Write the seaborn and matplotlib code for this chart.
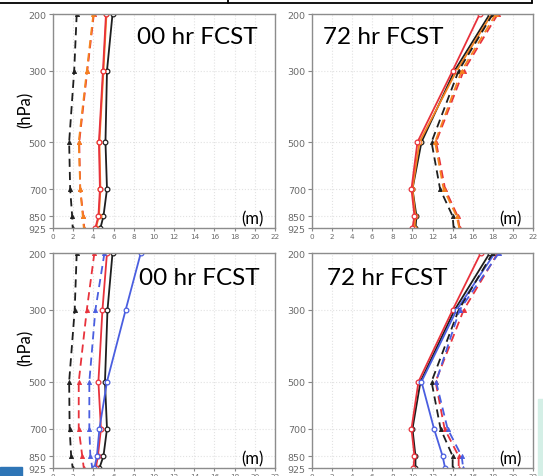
import numpy as np
import pandas as pd
import matplotlib
matplotlib.use("Agg")
import matplotlib.pyplot as plt
from matplotlib.lines import Line2D
from matplotlib.patches import Rectangle
import seaborn as sns

# Pressure levels (hPa)
levels = [200, 300, 500, 700, 850, 925]

# Upper row, 00 hr forecast (m)
top00_black_solid = [5.9, 5.35, 5.2, 5.35, 5.0, 4.7]
top00_red_solid = [5.25, 4.95, 4.55, 4.65, 4.5, 4.2]
top00_orange_solid = [5.3, 5.0, 4.6, 4.7, 4.55, 4.25]
top00_black_dash = [2.35, 2.1, 1.6, 1.7, 1.9, 1.95]
top00_red_dash = [4.05, 3.4, 2.6, 2.7, 3.0, 3.1]
top00_orange_dash = [4.0, 3.35, 2.55, 2.7, 2.95, 3.05]

# Upper row, 72 hr forecast (m)
top72_black_solid = [17.7, 14.2, 10.9, 10.0, 10.4, 10.3]
top72_red_solid = [16.7, 14.0, 10.5, 9.9, 10.2, 10.0]
top72_orange_solid = [17.9, 14.4, 10.7, 10.0, 10.3, 10.2]
top72_black_dash = [18.0, 14.6, 11.9, 12.75, 14.0, 14.1]
top72_red_dash = [18.5, 15.1, 12.35, 13.25, 14.5, 14.7]
top72_orange_dash = [18.3, 14.9, 12.25, 13.1, 14.4, 14.65]

# Lower row, 00 hr forecast (m)
bot00_black_solid = [5.9, 5.4, 5.15, 5.35, 5.0, 4.6]
bot00_red_solid = [5.35, 4.9, 4.5, 4.75, 4.45, 4.25]
bot00_blue_solid = [8.7, 7.2, 5.35, 4.6, 4.35, 4.1]
bot00_black_dash = [2.35, 2.15, 1.6, 1.65, 1.8, 1.95]
bot00_red_dash = [4.1, 3.35, 2.55, 2.55, 2.9, 3.05]
bot00_blue_dash = [5.1, 4.2, 3.6, 3.6, 3.7, 3.9]

# Lower row, 72 hr forecast (m)
bot72_black_solid = [17.7, 14.2, 10.8, 10.0, 10.3, 10.3]
bot72_red_solid = [16.8, 14.0, 10.6, 9.9, 10.2, 10.1]
bot72_blue_solid = [18.2, 14.4, 10.9, 12.15, 13.0, 13.25]
bot72_black_dash = [18.0, 14.6, 11.9, 12.8, 14.0, 14.0]
bot72_red_dash = [18.5, 15.1, 12.3, 13.2, 14.6, 14.6]
bot72_blue_dash = [18.6, 14.7, 12.35, 13.5, 14.9, 15.05]

x_ticks = list(range(0, 23, 2))
panel_titles = ["00 hr FCST", "72 hr FCST", "00 hr FCST", "72 hr FCST"]
# (x, y, horizontal alignment) of each panel title in axes fraction
title_pos = [(0.923, 0.893, "right"), (0.05, 0.893, "left"),
             (0.932, 0.884, "right"), (0.068, 0.884, "left")]

BLACK = "#1e1e1e"
RED = "#e8323c"
ORANGE = "#f5821f"
BLUE = "#4a5ee0"

sns.set_theme(style="white")
plt.rcParams["font.family"] = ["DejaVu Sans"]

W, H = 543, 477
fig = plt.figure(figsize=(W / 100, H / 100), dpi=100)


def px_axes(x0, y0, x1, y1):
    return fig.add_axes([x0 / W, 1 - y1 / H, (x1 - x0) / W, (y1 - y0) / H])


axes = [
    px_axes(53, 15, 275, 229),
    px_axes(312, 15, 533, 229),
    px_axes(53, 254, 275, 469),
    px_axes(312, 254, 533, 469),
]


def draw(ax, vals, color, dashed, z=2):
    df = pd.DataFrame({"x": vals, "p": levels})
    kw = dict(marker="^", markersize=3.0, markeredgewidth=0.6) if dashed else \
        dict(marker="o", markersize=3.4, markerfacecolor="white", markeredgewidth=0.9)
    sns.lineplot(data=df, x="x", y="p", ax=ax, color=color, sort=False,
                 orient="y", estimator=None, linewidth=1.3, zorder=z,
                 dashes=False, legend=False, markeredgecolor=color, **kw)
    if dashed:
        ax.lines[-1].set_linestyle((0, (4.5, 2.8)))


panel_series = [
    [(top00_black_solid, BLACK, False), (top00_orange_solid, ORANGE, False),
     (top00_red_solid, RED, False), (top00_black_dash, BLACK, True),
     (top00_red_dash, RED, True), (top00_orange_dash, ORANGE, True)],
    [(top72_black_solid, BLACK, False), (top72_orange_solid, ORANGE, False),
     (top72_red_solid, RED, False), (top72_black_dash, BLACK, True),
     (top72_red_dash, RED, True), (top72_orange_dash, ORANGE, True)],
    [(bot00_black_solid, BLACK, False), (bot00_red_solid, RED, False),
     (bot00_blue_solid, BLUE, False), (bot00_black_dash, BLACK, True),
     (bot00_red_dash, RED, True), (bot00_blue_dash, BLUE, True)],
    [(bot72_black_solid, BLACK, False), (bot72_red_solid, RED, False),
     (bot72_blue_solid, BLUE, False), (bot72_black_dash, BLACK, True),
     (bot72_red_dash, RED, True), (bot72_blue_dash, BLUE, True)],
]

for i, (ax, series) in enumerate(zip(axes, panel_series)):
    for vals, col, dashed in series:
        draw(ax, vals, col, dashed)
    ax.set_yscale("log")
    ax.set_ylim(925, 200)
    ax.set_xlim(0, 22)
    ax.set_yticks(levels)
    ax.set_yticklabels([str(v) for v in levels])
    ax.minorticks_off()
    ax.set_xticks(x_ticks)
    ax.set_xticklabels([str(v) for v in x_ticks])
    ax.set_xlabel("")
    ax.set_ylabel("")
    ax.grid(True, color="#e2e2e2", linestyle=":", linewidth=0.8)
    ax.tick_params(axis="y", labelsize=6.8, labelcolor="#6a6a6a", length=3,
                   width=0.8, color="#888888", pad=1.5, left=True)
    ax.tick_params(axis="x", labelsize=5.2, labelcolor="#6a6a6a", length=2.5,
                   width=0.8, color="#888888", pad=1.0, bottom=True)
    for s in ax.spines.values():
        s.set_color("#8c8c8c")
        s.set_linewidth(1.0)
    tx, ty, ha = title_pos[i]
    ax.text(tx, ty, panel_titles[i], transform=ax.transAxes, ha=ha,
            va="center", fontsize=17.5, family="Lato", color="black")
    ax.text(0.947, 0.005, "(m)", transform=ax.transAxes, ha="right",
            va="bottom", fontsize=12, family="Lato", color="black")

# Pressure axis labels
fig.text(26 / W, 1 - 110 / H, "(hPa)", rotation=90, ha="center", va="center",
         fontsize=12, family="Lato", color="black")
fig.text(26 / W, 1 - 348 / H, "(hPa)", rotation=90, ha="center", va="center",
         fontsize=12, family="Lato", color="black")

# Frame line along the top edge
fig.add_artist(Line2D([0, 532 / W], [1 - 4 / H, 1 - 4 / H], color="black",
                      linewidth=1.3, transform=fig.transFigure))
for xv in (228, 532):
    fig.add_artist(Line2D([xv / W, xv / W], [1 - 4 / H, 1.0], color="black",
                          linewidth=1.3, transform=fig.transFigure))

# Corner blocks
fig.add_artist(Rectangle((0, 0), 22 / W, 9 / H, color="#2e75b6",
                         transform=fig.transFigure))
fig.add_artist(Rectangle((538 / W, 0), 5 / W, 77 / H, color="#d4efe6",
                         transform=fig.transFigure))

fig.savefig("out.png", dpi=100)
